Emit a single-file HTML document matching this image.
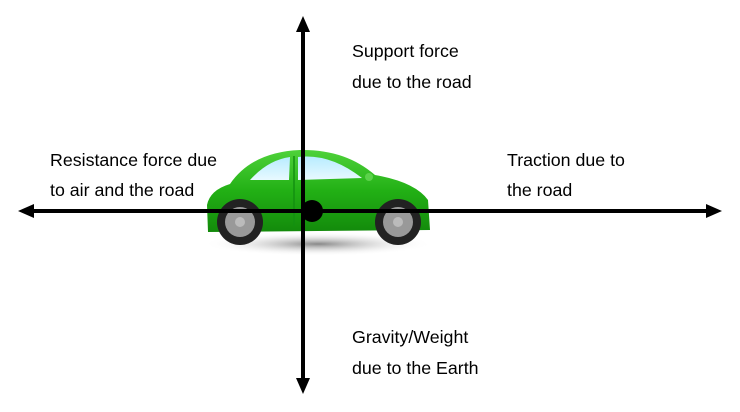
<!DOCTYPE html>
<html><head><meta charset="utf-8"><style>
html,body{margin:0;padding:0;background:#fff;}
svg{display:block}
text{font-family:"Liberation Sans",sans-serif;font-size:17.8px;fill:#000}
</style></head><body>
<svg width="740" height="412" viewBox="0 0 740 412">
<defs>
<linearGradient id="bd" x1="0" y1="0" x2="0" y2="1">
<stop offset="0" stop-color="#4fd23a"/><stop offset="0.5" stop-color="#22b015"/><stop offset="1" stop-color="#138a0b"/></linearGradient>
<linearGradient id="wn" x1="0" y1="0" x2="0" y2="1">
<stop offset="0" stop-color="#b8ecff"/><stop offset="1" stop-color="#e8f9ff"/></linearGradient>
<radialGradient id="sh"><stop offset="0" stop-color="#888"/><stop offset="1" stop-color="#fff" stop-opacity="0"/></radialGradient>
</defs>
<ellipse cx="318" cy="244" rx="115" ry="12" fill="url(#sh)"/>
<path d="M208,232 L207,205 Q210,190 230,184 Q252,152 300,150 Q345,149 375,175 Q415,182 428,200 L430,230 Z" fill="url(#bd)"/>
<path d="M250,180 Q268,160 290,157 L289,180 Z" fill="url(#wn)"/>
<path d="M298,157 Q330,153 362,178 L298,180 Z" fill="url(#wn)"/>
<line x1="294" y1="156" x2="294" y2="226" stroke="#139010" stroke-width="1.5"/>
<circle cx="369" cy="177" r="4" fill="#5bd24a"/>
<g>
<circle cx="240" cy="222" r="23" fill="#222"/><circle cx="240" cy="222" r="15" fill="#999"/><circle cx="240" cy="222" r="5" fill="#bbb"/>
<circle cx="398" cy="222" r="23" fill="#222"/><circle cx="398" cy="222" r="15" fill="#999"/><circle cx="398" cy="222" r="5" fill="#bbb"/>
</g>
<g stroke="#000" stroke-width="4">
<line x1="303" y1="28" x2="303" y2="382"/>
<line x1="30" y1="211" x2="710" y2="211"/>
</g>
<g fill="#000">
<polygon points="303,16 296,32 310,32"/>
<polygon points="303,394 296,378 310,378"/>
<polygon points="18,211 34,204 34,218"/>
<polygon points="722,211 706,204 706,218"/>
<circle cx="312" cy="211" r="11"/>
</g>
<text x="352" y="57">Support force</text>
<text x="352" y="88">due to the road</text>
<text x="50" y="166">Resistance force due</text>
<text x="50" y="196">to air and the road</text>
<text x="507" y="166">Traction due to</text>
<text x="507" y="196">the road</text>
<text x="352" y="343">Gravity/Weight</text>
<text x="352" y="374">due to the Earth</text>
</svg>
</body></html>
